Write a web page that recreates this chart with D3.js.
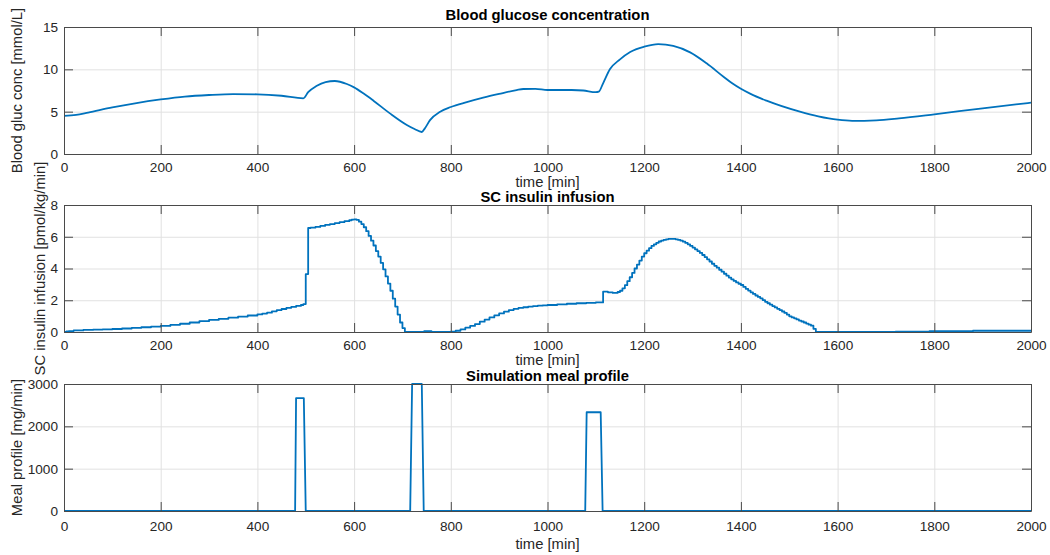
<!DOCTYPE html>
<html>
<head>
<meta charset="utf-8">
<script src="https://cdn.jsdelivr.net/npm/d3@7"></script>
<style>
  html, body { margin: 0; padding: 0; background: #fff; }
  svg { display: block; font-family: "Liberation Sans", Arial, Helvetica, sans-serif; }
</style>
</head>
<body>
<svg id="chart" width="1050" height="555"></svg>
<script>
// ---- data ----
const xTicks = [0, 200, 400, 600, 800, 1000, 1200, 1400, 1600, 1800, 2000];
const glucoseTicks = [0, 5, 10, 15];
const insulinTicks = [0, 2, 4, 6, 8];
const mealTicks = [0, 1000, 2000, 3000];

// blood glucose [mmol/L] at time [min]
const glucoseTime = [0, 25, 50, 100, 150, 200, 250, 300, 350, 400, 450, 495, 505, 522, 541, 560, 585, 600, 619, 640, 674, 709, 725, 740, 746, 757, 778, 800, 833, 867, 900, 936, 950, 975, 1000, 1050, 1074, 1100, 1106, 1115, 1129, 1150, 1171, 1200, 1229, 1260, 1295, 1329, 1364, 1382, 1400, 1420, 1453, 1522, 1560, 1600, 1630, 1680, 1727, 1800, 1900, 2000];
const glucoseValue = [4.5, 4.62, 4.9, 5.5, 6.02, 6.44, 6.78, 6.97, 7.08, 7.05, 6.88, 6.58, 7.3, 8.03, 8.5, 8.62, 8.27, 7.87, 7.17, 6.3, 4.8, 3.43, 2.95, 2.6, 3.0, 4.0, 5.0, 5.55, 6.12, 6.65, 7.1, 7.55, 7.68, 7.7, 7.56, 7.56, 7.5, 7.3, 7.36, 8.35, 10.0, 11.18, 12.05, 12.67, 12.97, 12.76, 12.0, 10.71, 9.13, 8.35, 7.7, 7.1, 6.3, 5.0, 4.45, 4.05, 3.92, 3.98, 4.21, 4.69, 5.4, 6.06];

// SC insulin infusion [pmol/kg/min], held constant from each time until the next
const insulinTime = [0, 5, 10, 20, 40, 60, 80, 100, 120, 140, 160, 180, 200, 220, 240, 260, 280, 300, 320, 340, 360, 380, 400, 410, 420, 430, 440, 450, 460, 470, 480, 490, 495, 500, 505, 510, 520, 530, 540, 550, 560, 570, 580, 590, 595, 600, 605, 610, 615, 620, 625, 630, 635, 640, 645, 650, 655, 660, 665, 670, 675, 680, 685, 690, 695, 700, 705, 745, 760, 800, 810, 820, 830, 840, 850, 860, 870, 880, 890, 900, 910, 920, 930, 940, 950, 960, 970, 980, 990, 1000, 1020, 1040, 1060, 1080, 1100, 1115, 1125, 1135, 1145, 1150, 1155, 1160, 1165, 1170, 1175, 1180, 1185, 1190, 1195, 1200, 1205, 1210, 1215, 1220, 1225, 1230, 1235, 1240, 1245, 1250, 1255, 1260, 1265, 1270, 1275, 1280, 1285, 1290, 1295, 1300, 1305, 1310, 1315, 1320, 1325, 1330, 1335, 1340, 1345, 1350, 1355, 1360, 1365, 1370, 1375, 1380, 1385, 1390, 1395, 1400, 1405, 1410, 1415, 1420, 1425, 1430, 1435, 1440, 1445, 1450, 1455, 1460, 1465, 1470, 1475, 1480, 1485, 1490, 1495, 1500, 1505, 1510, 1515, 1520, 1525, 1530, 1535, 1540, 1545, 1550, 1555, 1720, 1790, 1880, 2000];
const insulinValue = [0, 0.03, 0.06, 0.1, 0.13, 0.15, 0.17, 0.19, 0.22, 0.26, 0.3, 0.34, 0.38, 0.45, 0.52, 0.6, 0.68, 0.76, 0.83, 0.9, 0.97, 1.04, 1.11, 1.16, 1.22, 1.3, 1.38, 1.45, 1.52, 1.58, 1.64, 1.7, 1.76, 3.65, 6.55, 6.57, 6.62, 6.68, 6.75, 6.8, 6.86, 6.92, 6.98, 7.04, 7.08, 7.1, 7.06, 6.95, 6.8, 6.6, 6.35, 6.05, 5.75, 5.45, 5.1, 4.75, 4.35, 3.95, 3.5, 3.05, 2.6, 2.1, 1.6, 1.1, 0.6, 0.25, 0, 0.06, 0, 0.02, 0.08, 0.16, 0.27, 0.38, 0.5, 0.65, 0.78, 0.92, 1.05, 1.17, 1.28, 1.38, 1.46, 1.52, 1.56, 1.6, 1.63, 1.66, 1.68, 1.7, 1.74, 1.78, 1.81, 1.84, 1.86, 2.54, 2.5, 2.46, 2.52, 2.6, 2.75, 2.95, 3.2, 3.45, 3.72, 4.0, 4.25, 4.5, 4.75, 4.96, 5.12, 5.28, 5.42, 5.52, 5.62, 5.7, 5.76, 5.8, 5.84, 5.86, 5.87, 5.86, 5.84, 5.8, 5.75, 5.69, 5.61, 5.52, 5.42, 5.32, 5.21, 5.1, 4.98, 4.85, 4.72, 4.58, 4.44, 4.3, 4.17, 4.05, 3.92, 3.8, 3.67, 3.55, 3.43, 3.32, 3.22, 3.12, 3.04, 2.96, 2.84, 2.72, 2.61, 2.5, 2.4, 2.3, 2.21, 2.12, 2.01, 1.9, 1.81, 1.72, 1.63, 1.55, 1.46, 1.38, 1.29, 1.2, 1.1, 0.99, 0.92, 0.86, 0.79, 0.72, 0.66, 0.6, 0.53, 0.46, 0.4, 0.2, 0, 0.02, 0.05, 0.08, 0.08];

// meal carbohydrate rate [mg/min]
const mealTime = [0, 478, 480, 496, 500, 716, 720, 740, 744, 1078, 1081, 1110, 1114, 2000];
const mealValue = [0, 0, 2667, 2667, 0, 0, 3000, 3000, 0, 0, 2333, 2333, 0, 0];

// ---- layout ----
const svg = d3.select("#chart");
const left = 64, right = 1031;
const lineColor = "#0072bd";
const textColor = "#262626";
const gridColor = "#e1e1e1";
const boxColor = "#4a4a4a";
const tickLen = 9;
const tickFont = 13.6;
const labelFont = 14.8;
const fmt = d3.format("d");

const x = d3.scaleLinear().domain([0, 2000]).range([left, right]);

const panels = [
  {
    top: 27, bottom: 154, domain: [0, 15], ticks: glucoseTicks,
    title: "Blood glucose concentration", titleY: 20,
    ylabel: "Blood gluc conc [mmol/L]", ylabelX: 22,
    tickLabelY: 172, xlabelY: 187,
    data: glucoseTime.map((t, i) => [t, glucoseValue[i]]),
    curve: d3.curveMonotoneX
  },
  {
    top: 205, bottom: 332, domain: [0, 8], ticks: insulinTicks,
    title: "SC insulin infusion", titleY: 202,
    ylabel: "SC insulin infusion [pmol/kg/min]", ylabelX: 45,
    tickLabelY: 350, xlabelY: 365,
    data: insulinTime.map((t, i) => [t, insulinValue[i]]),
    curve: d3.curveStepAfter
  },
  {
    top: 384, bottom: 511, domain: [0, 3000], ticks: mealTicks,
    title: "Simulation meal profile", titleY: 381,
    ylabel: "Meal profile [mg/min]", ylabelX: 22,
    tickLabelY: 531, xlabelY: 549,
    data: mealTime.map((t, i) => [t, mealValue[i]]),
    curve: d3.curveLinear
  }
];

panels.forEach(p => {
  const y = d3.scaleLinear().domain(p.domain).range([p.bottom, p.top]);
  const g = svg.append("g");

  // grid lines
  g.append("g")
    .attr("transform", `translate(0,${p.bottom})`)
    .call(d3.axisBottom(x).tickValues(xTicks).tickSize(-(p.bottom - p.top)).tickFormat(""))
    .call(s => s.select(".domain").remove())
    .call(s => s.selectAll("line").attr("stroke", gridColor).attr("stroke-width", 1));
  g.append("g")
    .attr("transform", `translate(${left},0)`)
    .call(d3.axisLeft(y).tickValues(p.ticks).tickSize(-(right - left)).tickFormat(""))
    .call(s => s.select(".domain").remove())
    .call(s => s.selectAll("line").attr("stroke", gridColor).attr("stroke-width", 1));

  // data line
  const clipId = "clip" + p.top;
  svg.append("clipPath").attr("id", clipId)
    .append("rect").attr("x", left).attr("y", p.top - 2)
    .attr("width", right - left).attr("height", p.bottom - p.top + 4);
  g.append("path")
    .datum(p.data)
    .attr("clip-path", `url(#${clipId})`)
    .attr("fill", "none")
    .attr("stroke", lineColor)
    .attr("stroke-width", 1.8)
    .attr("stroke-linejoin", "round")
    .attr("d", d3.line().x(d => x(d[0])).y(d => y(d[1])).curve(p.curve));

  // inward ticks on all four sides, tick labels bottom and left
  const styleAxis = s => {
    s.select(".domain").attr("stroke", boxColor).attr("stroke-width", 1);
    s.selectAll(".tick line").attr("stroke", boxColor).attr("stroke-width", 1);
    s.selectAll(".tick text").attr("fill", textColor).attr("font-size", tickFont)
      .attr("font-family", "Liberation Sans, Arial, sans-serif");
  };
  const xb = g.append("g").attr("transform", `translate(0,${p.bottom})`)
    .call(d3.axisBottom(x).tickValues(xTicks).tickFormat(fmt).tickSizeInner(-tickLen).tickSizeOuter(0).tickPadding(0))
    .call(styleAxis);
  xb.selectAll(".tick text").attr("y", null).attr("dy", null)
    .attr("transform", `translate(0,${p.tickLabelY - p.bottom})`);
  g.append("g").attr("transform", `translate(0,${p.top})`)
    .call(d3.axisTop(x).tickValues(xTicks).tickSizeInner(-tickLen).tickSizeOuter(0).tickFormat(""))
    .call(styleAxis);
  g.append("g").attr("transform", `translate(${left},0)`)
    .call(d3.axisLeft(y).tickValues(p.ticks).tickFormat(fmt).tickSizeInner(-tickLen).tickSizeOuter(0).tickPadding(6))
    .call(styleAxis);
  g.append("g").attr("transform", `translate(${right},0)`)
    .call(d3.axisRight(y).tickValues(p.ticks).tickSizeInner(-tickLen).tickSizeOuter(0).tickFormat(""))
    .call(styleAxis);

  // title
  svg.append("text")
    .attr("x", (left + right) / 2).attr("y", p.titleY)
    .attr("text-anchor", "middle")
    .attr("font-size", labelFont).attr("font-weight", "bold")
    .attr("fill", "#000")
    .text(p.title);

  // x label
  svg.append("text")
    .attr("x", (left + right) / 2).attr("y", p.xlabelY)
    .attr("text-anchor", "middle")
    .attr("font-size", labelFont).attr("fill", textColor)
    .text("time [min]");

  // y label
  svg.append("text")
    .attr("transform", `translate(${p.ylabelX},${(p.top + p.bottom) / 2}) rotate(-90)`)
    .attr("text-anchor", "middle")
    .attr("font-size", labelFont).attr("fill", textColor)
    .text(p.ylabel);
});
</script>
</body>
</html>
